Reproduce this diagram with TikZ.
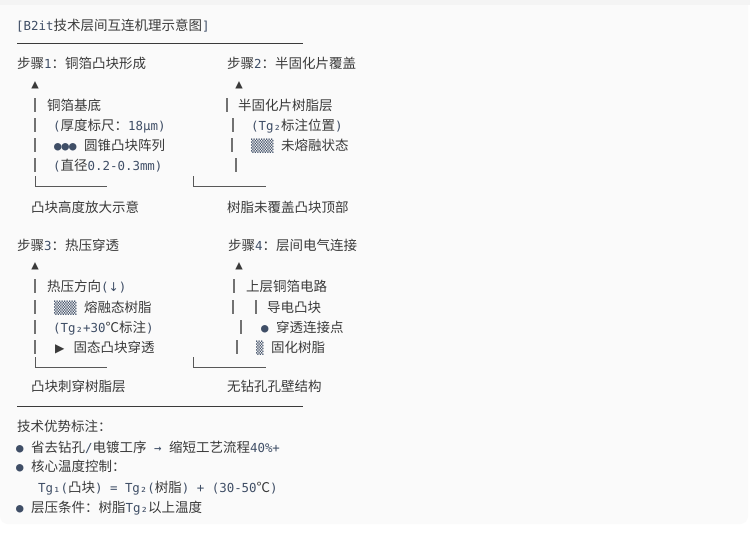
\documentclass[tikz,border=0pt]{standalone}
\usepackage{fontspec}
\usepackage{tikz}
\usetikzlibrary{positioning}
\setmainfont{Noto Sans CJK SC}
\newfontfamily\monofont{DejaVu Sans Mono}[Scale=0.92]
\newfontfamily\symfont{DejaVu Sans}[Scale=0.9]
\definecolor{ink}{HTML}{3A3A3A}
\definecolor{latin}{HTML}{3F4E66}
\definecolor{barc}{HTML}{727272}
\definecolor{boxbg}{HTML}{FAFAFA}
\definecolor{topstrip}{HTML}{F4F4F4}
\newcommand\lt[1]{{\color{latin}\monofont#1}}
\newcommand\sy[1]{{\color{ink}\symfont#1}}

\begin{document}
\begin{tikzpicture}[x=1pt, y=-1pt,
    txt/.style={anchor=base west, inner sep=0pt, text=ink, font=\fontsize{13.5}{16}\selectfont},
    glyph/.style={anchor=center, inner sep=0pt, text=ink, font=\monofont\fontsize{13.5}{16}\selectfont},
    bar/.style={draw=barc, line width=1.1pt},
    corner/.style={draw=ink!85, line width=0.8pt},
    rule/.style={draw=ink, line width=0.8pt}]
  \useasboundingbox (0,0) rectangle (750,541);
  \fill[white] (0,0) rectangle (750,541);
  \fill[topstrip] (0,0) rectangle (750,5);
  \fill[boxbg] (0,5) -- (748,5) -- (748,300) [rounded corners=8pt] -- (748,524) -- (0,524) -- (0,300) [sharp corners] -- cycle;

  \node[txt] (title) at (16,30) {\lt{[B2it}技术层间互连机理示意图\lt{]}};
  \path[rule] (17,43) -- (303,43);

  \node[txt] (s1head) at (17,68) {步骤\lt{1}：铜箔凸块形成};
  \node[txt] (s2head) at (227,68) {步骤\lt{2}：半固化片覆盖};
  \node[glyph] (up1) at (35,85) {▲};
  \node[glyph] (up2) at (239,85) {▲};

  \node[txt] (s1a) at (47,110) {铜箔基底};
  \node[txt] (s1b) at (53,130) {\lt{(}厚度标尺：\lt{18μm)}};
  \node[txt] (s1c) at (54,150) {\lt{●●●\ }圆锥凸块阵列};
  \node[txt] (s1d) at (53,170) {\lt{(}直径\lt{0.2-0.3mm)}};
  \path[bar] (35,98) -- (35,112) (35,118) -- (35,132) (35,138) -- (35,152) (35,158) -- (35,172);
  \path[corner] (35,176) -- (35,186) -- (107,186);
  \node[txt] (cap1) at (31,212) {凸块高度放大示意};

  \node[txt] (s2a) at (238,110) {半固化片树脂层};
  \node[txt] (s2b) at (251,130) {\lt{(Tg₂}标注位置\lt{)}};
  \node[txt] (s2c) at (251,150) {\lt{▒▒▒\ }未熔融状态};
  \path[bar] (227,98) -- (227,112) (233,118) -- (233,132) (232,138) -- (232,152) (236,158) -- (236,172);
  \path[corner] (193,176) -- (193,186) -- (266,186);
  \node[txt] (cap2) at (227,212) {树脂未覆盖凸块顶部};

  \node[txt] (s3head) at (17,250) {步骤\lt{3}：热压穿透};
  \node[txt] (s4head) at (228,250) {步骤\lt{4}：层间电气连接};
  \node[glyph] (up3) at (35,266) {▲};
  \node[glyph] (up4) at (239,266) {▲};

  \node[txt] (s3a) at (47,291) {热压方向\lt{(}{\color{latin}\symfont ↓}\lt{)}};
  \node[txt] (s3b) at (54,312) {\lt{▒▒▒\ }熔融态树脂};
  \node[txt] (s3c) at (53,332) {\lt{(Tg₂+30}℃标注\lt{)}};
  \node[txt] (s3d) at (55,352) {\sy{▶}\hspace{9pt}固态凸块穿透};
  \path[bar] (35,279) -- (35,293) (35,300) -- (35,314) (35,320) -- (35,334) (35,340) -- (35,354);
  \path[corner] (35,357) -- (35,367) -- (107,367);
  \node[txt] (cap3) at (31,391) {凸块刺穿树脂层};

  \node[txt] (s4a) at (246,291) {上层铜箔电路};
  \node[txt] (s4b) at (267,312) {导电凸块};
  \node[txt] (s4c) at (261,332) {\lt{●\ }穿透连接点};
  \node[txt] (s4d) at (256,352) {\lt{▒\ }固化树脂};
  \path[bar] (234,279) -- (234,293) (233,300) -- (233,314) (256,300) -- (256,314) (241,320) -- (241,334) (237,340) -- (237,354);
  \path[corner] (193,357) -- (193,367) -- (266,367);
  \node[txt] (cap4) at (227,391) {无钻孔孔壁结构};

  \path[rule] (17,406) -- (303,406);
  \node[txt] (adv) at (17,431) {技术优势标注：};
  \node[txt] (b1) at (16,452) {\lt{●\ }省去钻孔\lt{/}电镀工序\lt{\ →\ }缩短工艺流程\lt{40\%+}};
  \node[txt] (b2) at (16,471) {\lt{●\ }核心温度控制：};
  \node[txt] (f1) at (38,492) {\lt{Tg₁(}凸块\lt{)\ =\ Tg₂(}树脂\lt{)\ +\ (30-50}℃\lt{)}};
  \node[txt] (b3) at (16,512) {\lt{●\ }层压条件：树脂\lt{Tg₂}以上温度};
\end{tikzpicture}
\end{document}
